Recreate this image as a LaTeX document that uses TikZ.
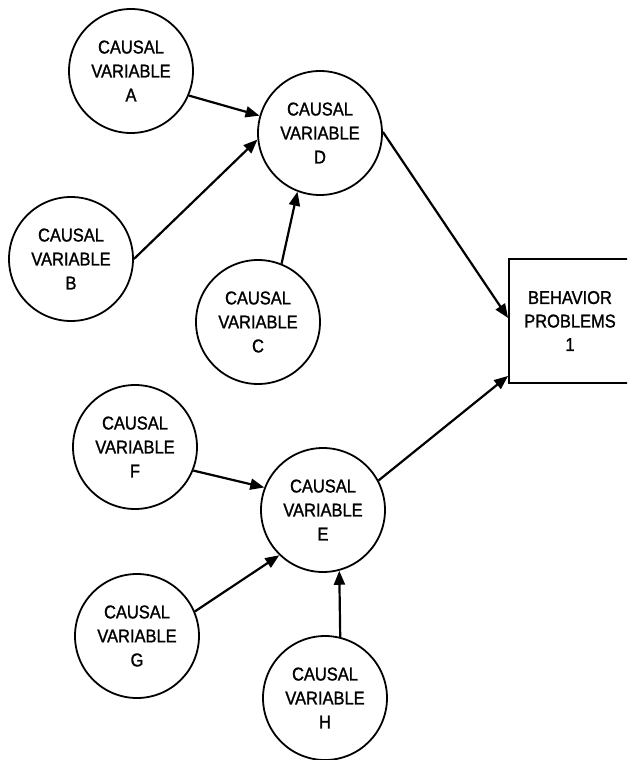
\documentclass[tikz,border=0pt]{standalone}
\usepackage{fontspec}
\setmainfont{Liberation Sans}
\newfontfamily\labelfont[FakeBold=1.3,FakeStretch=0.89]{Liberation Sans}
\usetikzlibrary{arrows.meta}
\begin{document}
\begin{tikzpicture}[x=1pt,y=-1pt,
  var/.style={circle,draw,line width=1.8pt,minimum size=124pt,inner sep=0pt,align=center,font=\labelfont\fontsize{18.5}{24}\selectfont},
  outbox/.style={rectangle,draw,line width=1.8pt,minimum width=122pt,minimum height=124pt,inner sep=0pt,align=center,font=\labelfont\fontsize{18.5}{23.5}\selectfont},
  arr/.style={line width=2.2pt,-{Triangle[length=14pt,width=11pt]}}]
\useasboundingbox (0,0) rectangle (627,760);
\clip (0,0) rectangle (627,760);
\node[var] (A) at (131,71) {CAUSAL\\VARIABLE\\A};
\node[var] (D) at (320,133) {CAUSAL\\VARIABLE\\D};
\node[var] (B) at (71,259) {CAUSAL\\VARIABLE\\B};
\node[var] (C) at (258,322) {CAUSAL\\VARIABLE\\C};
\node[var] (F) at (135,447) {CAUSAL\\VARIABLE\\F};
\node[var] (E) at (323,510) {CAUSAL\\VARIABLE\\E};
\node[var] (G) at (137,636) {CAUSAL\\VARIABLE\\G};
\node[var] (H) at (325,698) {CAUSAL\\VARIABLE\\H};
\node[outbox] (P) at (570,321) {BEHAVIOR\\PROBLEMS\\1};
\draw[arr] (A.-23) -- (D.164);
\draw[arr] (B.0) -- (D.186);
\draw[arr] (C.68) -- (D.249);
\draw[arr] (D.1) -- ([yshift=3pt]P.west);
\draw[arr] (F.-22) -- (E.159);
\draw[arr] (G.23) -- (E.226);
\draw[arr] (H.76) -- (E.285);
\draw[arr] (E.28) -- ([yshift=8pt]P.south west);
\end{tikzpicture}
\end{document}
